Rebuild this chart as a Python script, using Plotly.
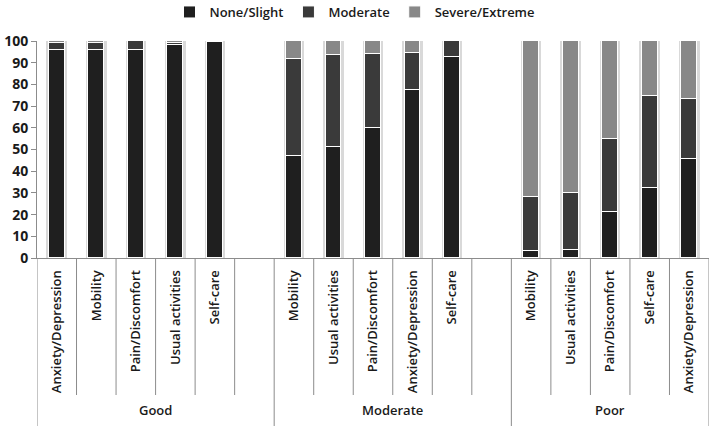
import plotly.graph_objects as go

groups = ["Good", "Moderate", "Poor"]

good_dims = ["Anxiety/Depression", "Mobility", "Pain/Discomfort", "Usual activities", "Self-care"]
good_none = [96, 96, 96, 98, 99.5]
good_mod = [3, 3.3, 4, 1, 0.5]
good_sev = [1, 0.7, 0, 1, 0]

mod_dims = ["Mobility", "Usual activities", "Pain/Discomfort", "Anxiety/Depression", "Self-care"]
mod_none = [47, 51, 60, 77.5, 92.8]
mod_mod = [44.5, 42.5, 34, 17, 7.2]
mod_sev = [8.5, 6.5, 6, 5.5, 0]

poor_dims = ["Mobility", "Usual activities", "Pain/Discomfort", "Self-care", "Anxiety/Depression"]
poor_none = [3.3, 3.6, 21.2, 32.1, 45.7]
poor_mod = [24.7, 26.4, 33.6, 42.4, 27.8]
poor_sev = [72, 70, 45.2, 25.5, 26.5]

series_names = ["None/Slight", "Moderate", "Severe/Extreme"]
series_colors = ["#1f1f1f", "#3a3a3a", "#888888"]

group_dims = [good_dims, mod_dims, poor_dims]
group_vals = [
    [good_none, good_mod, good_sev],
    [mod_none, mod_mod, mod_sev],
    [poor_none, poor_mod, poor_sev],
]

slot_ids, slot_text, group_slots = [], [], []
bar_ids = []
for gi, (g, dims) in enumerate(zip(groups, group_dims)):
    start = len(slot_ids)
    for d in dims:
        slot_ids.append(f"{g}|{d}")
        slot_text.append(d)
    bar_ids.extend([f"{g}|{d}" for d in dims])
    if gi < len(groups) - 1:
        slot_ids.append(f"{g}|gap")
        slot_text.append("")
    group_slots.append((start, len(slot_ids) - 1))

series_y = []
for si in range(len(series_names)):
    yvals = []
    for gv in group_vals:
        yvals.extend(gv[si])
    series_y.append(yvals)
totals = [sum(v) for v in zip(*series_y)]

fig = go.Figure()
# soft shadow behind each stacked bar
fig.add_trace(go.Bar(x=bar_ids, y=totals, width=0.52, showlegend=False, hoverinfo="skip",
                     marker=dict(color="#d9d9d9", line=dict(width=0)), xaxis="x", yaxis="y"))
for name, color, yvals in zip(series_names, series_colors, series_y):
    fig.add_trace(go.Bar(
        x=bar_ids, y=yvals, name=name,
        marker=dict(color=color, line=dict(color="white", width=1)),
        width=0.4, xaxis="x2", yaxis="y",
    ))

plot_h = 426 - 41 - 168
font_fam = "Open Sans, Liberation Sans, sans-serif"
line_col = "#8c8c8c"
txt_col = "#1a1a1a"

shapes = []
group_bounds = set()
for (s, e) in group_slots:
    group_bounds.add(s - 0.5)
    group_bounds.add(e + 0.5)
for i in range(len(slot_ids) + 1):
    xb = i - 0.5
    y1 = -(426 - 258) / plot_h if xb in group_bounds else -(395 - 258) / plot_h
    shapes.append(dict(type="line", xref="x", yref="paper", x0=xb, x1=xb, y0=0, y1=y1,
                       line=dict(color=line_col, width=1)))

annotations = []
for g, (s, e) in zip(groups, group_slots):
    annotations.append(dict(text=g, x=(s + e) / 2, xref="x", y=-(410 - 258) / plot_h, yref="paper",
                            showarrow=False, xanchor="center", yanchor="middle",
                            font=dict(family=font_fam, size=13, color=txt_col, weight=600)))

fig.update_layout(
    width=710, height=426,
    margin=dict(l=37, r=1, t=41, b=168, autoexpand=False),
    barmode="stack",
    plot_bgcolor="white", paper_bgcolor="white",
    showlegend=True,
    legend=dict(orientation="h", x=0.5, xanchor="center", xref="container",
                y=1 - 12 / 426, yanchor="middle", yref="container", traceorder="normal",
                font=dict(family=font_fam, size=13, color=txt_col, weight=600),
                itemwidth=30, tracegroupgap=0),
    xaxis=dict(type="category", categoryorder="array", categoryarray=slot_ids,
               range=[-0.5, len(slot_ids) - 0.5], automargin=False,
               tickvals=slot_ids, ticktext=slot_text, tickangle=-90,
               ticks="", showline=True, linecolor=line_col, linewidth=1,
               showgrid=False, ticklabelstandoff=6,
               tickfont=dict(family=font_fam, size=13, color=txt_col, weight=600)),
    xaxis2=dict(type="category", categoryorder="array", categoryarray=slot_ids,
                range=[-0.5, len(slot_ids) - 0.5], overlaying="x", matches="x",
                visible=False, automargin=False),
    yaxis=dict(range=[0, 100], dtick=10, showgrid=False, showline=True, automargin=False,
               linecolor=line_col, linewidth=1, ticks="outside", ticklen=5,
               tickcolor=line_col, zeroline=False,
               tickfont=dict(family=font_fam, size=14, color=txt_col, weight=700)),
    shapes=shapes,
    annotations=annotations,
    bargap=0,
)

fig.write_html("out.html", config={"displayModeBar": False},
               post_script="document.body.style.margin='0';document.body.style.padding='0';")
